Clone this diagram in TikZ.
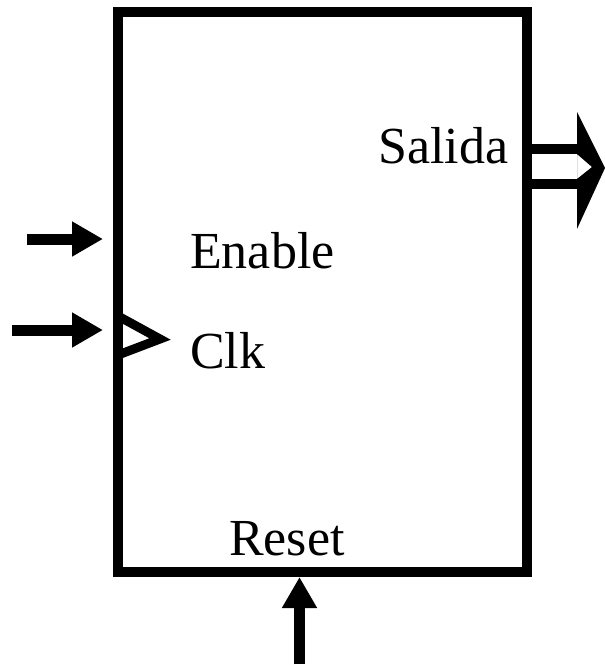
\documentclass[tikz,border=0pt]{standalone}
\usepackage{fontspec}
\setmainfont{Liberation Serif}
\usetikzlibrary{arrows.meta,positioning}

\tikzset{
  block/.style={draw, line width=10pt, minimum width=409pt, minimum height=560pt, inner sep=0pt},
  sig/.style={line width=11pt, -{Triangle[length=31pt,width=33pt]}},
  bus/.style={line width=10pt},
  port/.style={anchor=base west, inner sep=0pt, font=\fontsize{52}{60}\selectfont},
  clock/.style={line width=9pt, miter limit=10},
}

\begin{document}
\begin{tikzpicture}[x=1pt,y=-1pt]
  \useasboundingbox (0,0) rectangle (605,665);
  % Nodes
  \node[block] (fsm) at (322.5,292) {};
  \node[port] (enable) at (190,268) {Enable};
  \node[port] (clk) at (190,368) {Clk};
  \node[port] (salida) at (378,163) {Salida};
  \node[port] (reset) at (229,555) {Reset};

  % Free ends
  \coordinate (enin) at (27,239);
  \coordinate (clkin) at (12,330);
  \coordinate (rstin) at (299.5,664);

  % Edges
  \draw[sig, shorten >=10pt] (enin) -- (enin -| fsm.west);
  \draw[sig, shorten >=10pt] (clkin) -- (clkin -| fsm.west);
  \draw[sig] (rstin) -- (rstin |- fsm.south);

  % Clock mark
  \draw[clock] (118,316) -- (160,339) -- (118,355);

  % Output bus
  \draw[bus] (fsm.east |- 0,149) -- (580,149);
  \draw[bus] (fsm.east |- 0,184) -- (580,184);
  \fill[even odd rule] (577,112) -- (605,168) -- (577,229) -- cycle
    (577,154) -- (592,167) -- (577,179) -- cycle;
\end{tikzpicture}
\end{document}
